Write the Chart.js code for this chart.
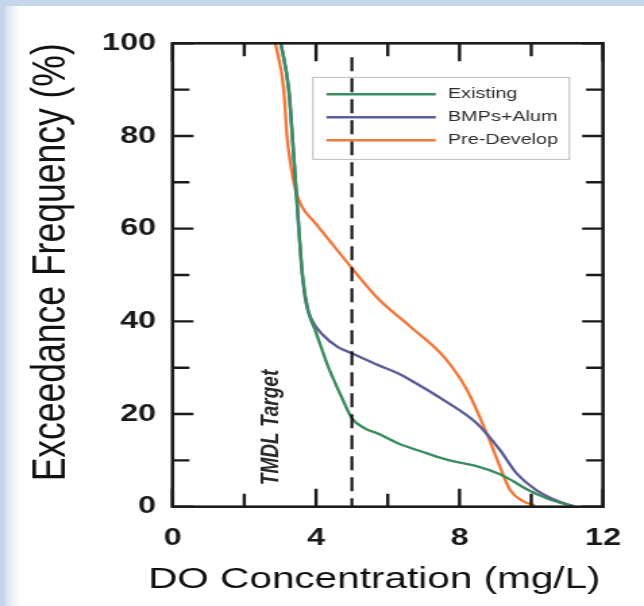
<!DOCTYPE html>
<html><head><meta charset="utf-8">
<script src="https://cdn.jsdelivr.net/npm/chart.js@4/dist/chart.umd.min.js"></script>
<style>
html,body{margin:0;padding:0;}
body{width:644px;height:606px;overflow:hidden;background:#c6d6ea;position:relative;}
#panel{position:absolute;left:5px;top:6px;width:639px;height:600px;background:linear-gradient(to right,#d2deec 0px,#eef3f9 8px,#ffffff 16px);}
#wrap{position:absolute;left:0;top:0;width:477px;height:606px;transform:scaleX(1.35);transform-origin:0 0;}
</style></head><body>
<div id="panel"></div>
<div id="wrap"><canvas id="c"></canvas></div>
<script>
// ---- data (DO concentration mg/L vs exceedance frequency %) ----
const seriesLabels = ['Existing', 'BMPs+Alum', 'Pre-Develop'];
const seriesColors = ['#3b8c5e', '#5b5e98', '#f07a3c'];

const existingX = [3.02, 3.24, 3.34, 3.43, 3.52, 3.62, 3.79, 3.98, 4.34, 4.71, 5.0, 5.36, 5.72, 6.28, 7.1, 7.72, 8.5, 9.13, 9.5, 9.86, 10.5, 11.1];
const existingY = [100, 90, 80, 70, 60, 50, 42, 38, 30.2, 23.7, 19.1, 16.9, 15.8, 13.7, 11.5, 10.0, 8.7, 7.0, 5.5, 3.8, 1.6, 0.2];

const bmpX = [3.02, 3.24, 3.34, 3.43, 3.52, 3.62, 3.72, 3.88, 4.2, 4.6, 5.0, 5.72, 6.28, 6.64, 7.56, 8.48, 9.13, 9.59, 10.14, 10.78, 11.2];
const bmpY = [100, 90, 80, 70, 60, 50, 44, 40.3, 37, 34.5, 33.1, 30.6, 28.8, 27.3, 23.0, 18.0, 12.2, 7.2, 3.6, 1.1, 0.1];

const preX = [2.87, 3.10, 3.19, 3.29, 3.43, 3.61, 3.98, 4.44, 5.0, 5.72, 6.64, 7.56, 8.21, 8.76, 9.13, 9.41, 9.77, 10.1];
const preY = [100, 90, 80, 74, 68.3, 64.7, 61.2, 56.8, 51.5, 45, 38.8, 32.4, 25.2, 15.8, 8.6, 3.6, 1.2, 0.3];

const xMajorTicks = [0, 4, 8, 12];
const xMinorTicks = [2, 6, 10];
const yMajorTicks = [0, 20, 40, 60, 80, 100];
const yMinorTicks = [10, 30, 50, 70, 90];

const targetDO = 5;
const targetLabel = 'TMDL Target';
const targetLabelAt = {x: 2.74, y: 17.1};

const xTitle = 'DO Concentration (mg/L)';
const yTitle = 'Exceedance Frequency (%)';

const toPts = (xs, ys) => xs.map((x, i) => ({x, y: ys[i]}));
const seriesData = [toPts(existingX, existingY), toPts(bmpX, bmpY), toPts(preX, preY)];

const FONT = "'Liberation Sans', Arial, sans-serif";

const overlay = {
  id: 'overlay',
  afterDatasetsDraw(chart) {
    const {ctx, chartArea: a, scales: {x, y}} = chart;
    ctx.save();
    // target dashed line
    const tx = x.getPixelForValue(targetDO);
    ctx.strokeStyle = '#111';
    ctx.lineWidth = 2.1;
    ctx.setLineDash([14, 7]);
    ctx.beginPath();
    ctx.moveTo(tx, y.getPixelForValue(97));
    ctx.lineTo(tx, a.bottom);
    ctx.stroke();
    ctx.setLineDash([]);

    // TMDL target label
    ctx.save();
    ctx.translate(x.getPixelForValue(targetLabelAt.x), y.getPixelForValue(targetLabelAt.y));
    ctx.rotate(-Math.PI / 2);
    ctx.font = 'italic bold 19px ' + FONT;
    ctx.fillStyle = '#2a2a2a';
    ctx.textAlign = 'center';
    ctx.textBaseline = 'middle';
    ctx.fillText(targetLabel, 0, 0);
    ctx.restore();

    // legend
    const lx = a.left + 104, ly = a.top + 34, lw = 190, lh = 82;
    ctx.strokeStyle = '#a8a8b0';
    ctx.lineWidth = 0.8;
    ctx.strokeRect(lx, ly, lw, lh);
    ctx.font = '14.7px ' + FONT;
    ctx.textBaseline = 'middle';
    ctx.textAlign = 'left';
    chart.data.datasets.forEach((ds, i) => {
      const yy = ly + 17 + i * 23;
      ctx.strokeStyle = ds.borderColor;
      ctx.lineWidth = 2.4;
      ctx.beginPath();
      ctx.moveTo(lx + 10, yy);
      ctx.lineTo(lx + 91, yy);
      ctx.stroke();
      ctx.fillStyle = '#2e2e2e';
      ctx.fillText(ds.label, lx + 100, yy);
    });

    // frame
    ctx.strokeStyle = '#1a1a1a';
    ctx.lineWidth = 2.6;
    ctx.strokeRect(a.left, a.top, a.right - a.left, a.bottom - a.top);

    // inward ticks
    ctx.lineWidth = 2.4;
    const xt = (v, len) => {
      const px = x.getPixelForValue(v);
      ctx.beginPath();
      ctx.moveTo(px, a.bottom); ctx.lineTo(px, a.bottom - len);
      ctx.moveTo(px, a.top); ctx.lineTo(px, a.top + len);
      ctx.stroke();
    };
    const yt = (v, len) => {
      const py = y.getPixelForValue(v);
      ctx.beginPath();
      ctx.moveTo(a.left, py); ctx.lineTo(a.left + len, py);
      ctx.moveTo(a.right, py); ctx.lineTo(a.right - len, py);
      ctx.stroke();
    };
    xMajorTicks.forEach(v => xt(v, 18));
    xMinorTicks.forEach(v => xt(v, 13));
    yMajorTicks.forEach(v => yt(v, 15.5));
    yMinorTicks.forEach(v => yt(v, 12.5));

    // x-axis title (slightly wider than the plot area, as in the original)
    ctx.font = '30px ' + FONT;
    ctx.fillStyle = '#111';
    ctx.textAlign = 'left';
    ctx.textBaseline = 'middle';
    ctx.fillText(xTitle, a.left - 18.1, a.bottom + 73);
    ctx.restore();
  }
};

new Chart(document.getElementById('c'), {
  type: 'line',
  data: {
    datasets: seriesLabels.map((lab, i) => ({
      label: lab,
      data: seriesData[i],
      borderColor: seriesColors[i],
      borderWidth: 2.4,
      pointRadius: 0,
      fill: false,
      cubicInterpolationMode: 'monotone'
    }))
  },
  options: {
    responsive: true,
    maintainAspectRatio: false,
    animation: false,
    devicePixelRatio: 1,
    layout: {padding: {left: 0, right: 27, top: 43.3, bottom: 0}},
    plugins: {legend: {display: false}, tooltip: {enabled: false}},
    scales: {
      x: {
        type: 'linear', min: 0, max: 12,
        afterBuildTicks: s => { s.ticks = xMajorTicks.map(v => ({value: v})); },
        afterFit: s => { s.height = 99.3; },
        grid: {display: false, drawTicks: false, tickLength: 0},
        border: {display: false},
        ticks: {padding: 17, color: '#1a1a1a', font: {family: FONT, size: 24, weight: 'bold'}},
        title: {display: false, text: xTitle}
      },
      y: {
        type: 'linear', min: 0, max: 100,
        afterBuildTicks: s => { s.ticks = yMajorTicks.map(v => ({value: v})); },
        afterFit: s => { s.width = 127.8; },
        grid: {display: false, drawTicks: false, tickLength: 0},
        border: {display: false},
        ticks: {padding: 12.2, color: '#1a1a1a', font: {family: FONT, size: 24, weight: 'bold'}},
        title: {display: true, text: yTitle, align: 'end', color: '#111', font: {family: FONT, size: 35.5}, padding: {top: 17.2, bottom: 0}}
      }
    }
  },
  plugins: [overlay]
});
</script>
</body></html>
